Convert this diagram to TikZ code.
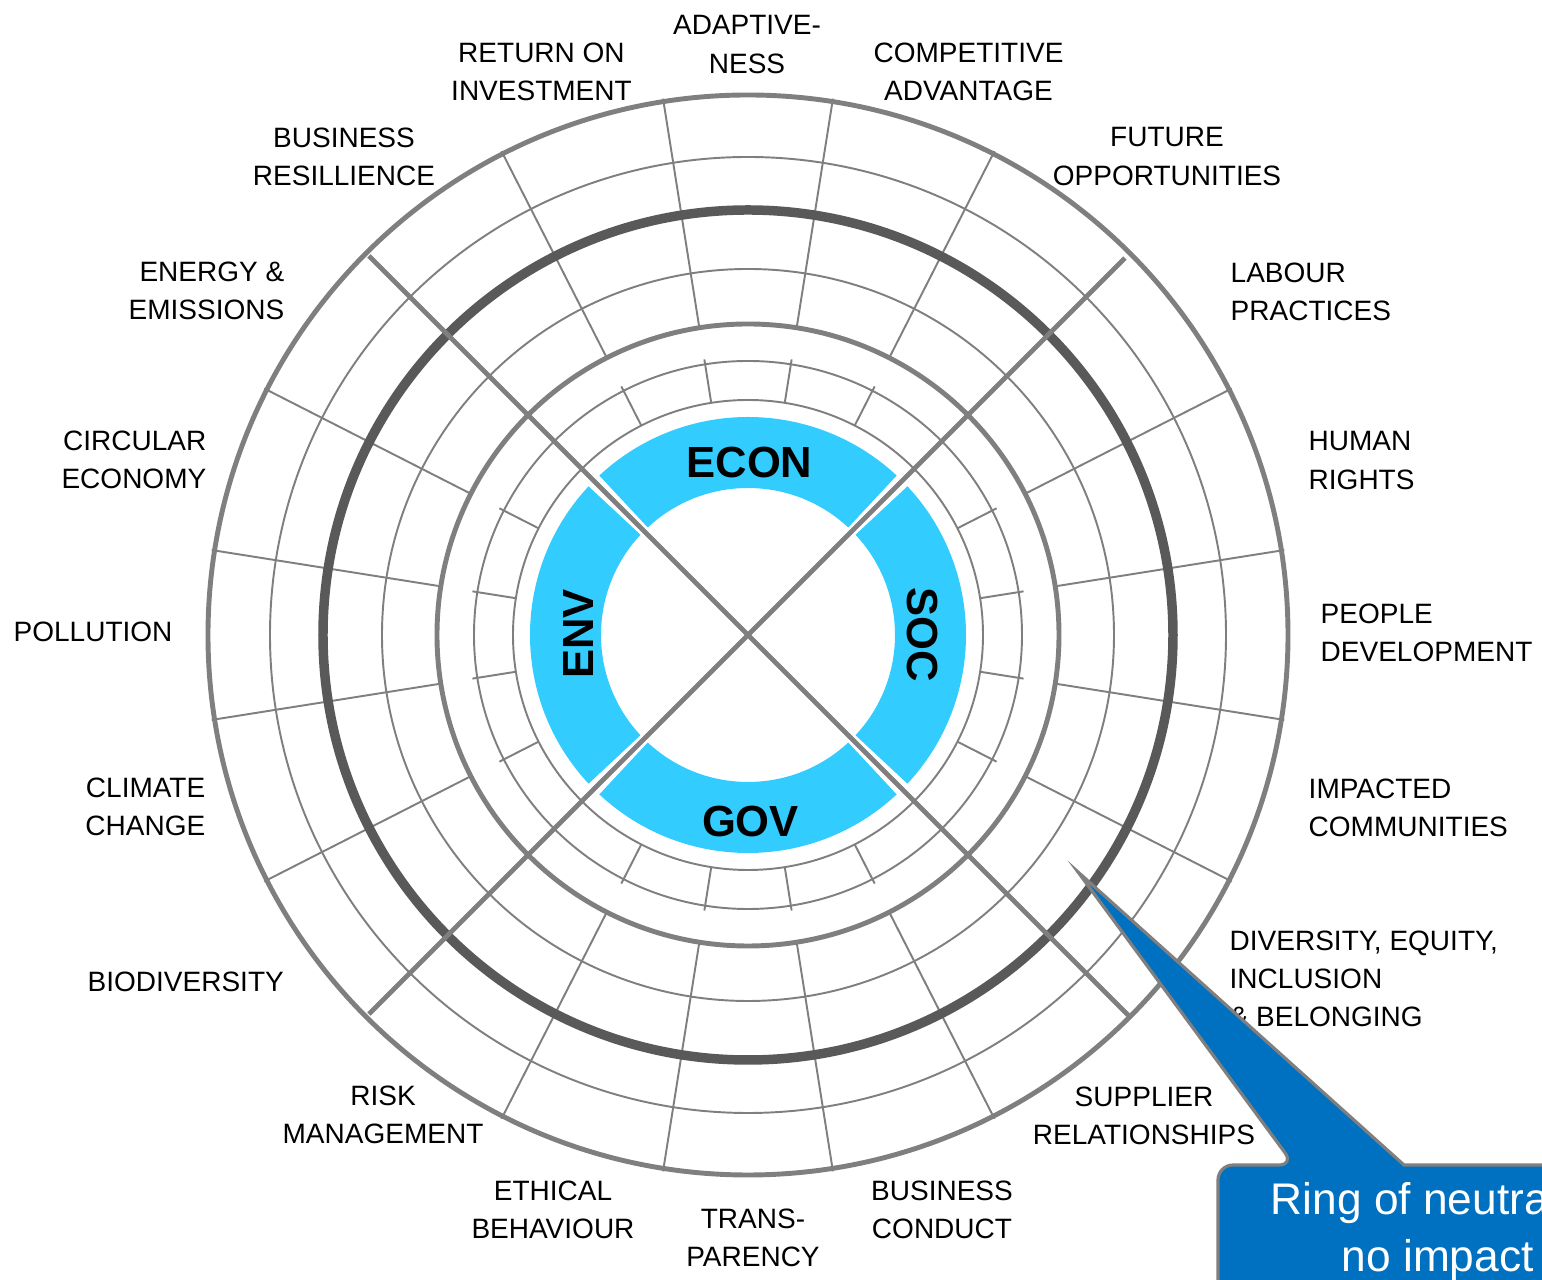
\documentclass[tikz,border=0pt]{standalone}
\usepackage{fontspec}
\setmainfont{Liberation Sans}
\definecolor{ringgray}{HTML}{7F7F7F}
\definecolor{ringdark}{HTML}{595959}
\definecolor{pillarblue}{HTML}{33CCFF}
\definecolor{calloutblue}{HTML}{0070C0}

\begin{document}
\begin{tikzpicture}[
  lbl/.style={inner sep=0pt, align=center, font=\fontsize{7.97}{10.9}\selectfont},
  pillar/.style={inner sep=0pt, font=\fontsize{12.4}{14}\selectfont\bfseries},
  thinring/.style={draw=ringgray, line width=0.55pt},
  midring/.style={draw=ringgray, line width=1.4pt},
  darkring/.style={draw=ringdark, line width=2.7pt},
  spoke/.style={draw=ringgray, line width=0.55pt},
  diag/.style={draw=ringgray, line width=1.4pt},
  callout/.style={fill=calloutblue, draw=ringgray, line width=0.9pt},
  callouttext/.style={inner sep=0pt, text=white, font=\fontsize{12.6}{16}\selectfont}
]
\useasboundingbox (-7.48,-6.45) rectangle (7.94,6.35);
\clip (-7.48,-6.45) rectangle (7.94,6.35);
\coordinate (O) at (0,0);

\foreach \a in {9,27,63,81,99,117,153,171,189,207,243,261,279,297,333,351} {
  \draw[spoke] (\a:3.11) -- (\a:5.43);
  \draw[spoke] (\a:2.35) -- (\a:2.79);
}
\foreach \r in {4.78,3.66,2.74,2.35} \draw[thinring] (O) circle (\r);
\draw[midring] (O) circle (5.40);
\draw[midring] (O) circle (3.11);
\draw[darkring] (O) circle (4.25);

\foreach \s/\e in {47/133,137/223,227/313,-43/43}
  \fill[pillarblue] (\s:2.18) arc[start angle=\s, end angle=\e, radius=2.18]
    -- (\e:1.47) arc[start angle=\e, end angle=\s, radius=1.47] -- cycle;

\node[pillar, anchor=base] (econ) at (0.015,1.57) {ECON};
\node[pillar, anchor=base] (gov) at (0.025,-2.02) {GOV};
\node[pillar, anchor=base, rotate=90] (env) at (-1.54,0.01) {ENV};
\node[pillar, anchor=base, rotate=-90] (soc) at (1.59,0) {SOC};

\coordinate (NE) at (45:5.33);
\coordinate (NW) at (135:5.36);
\coordinate (SW) at (225:5.36);
\coordinate (SE) at (315:5.38);
\draw[diag] (NE) -- (SW);
\draw[diag] (NW) -- (SE);

\node[lbl, anchor=north] (adapt) at (-0.01,6.20) {ADAPTIVE-\\NESS};
\node[lbl, anchor=north] (compadv) at (2.205,5.93) {COMPETITIVE\\ADVANTAGE};
\node[lbl, anchor=north] (future) at (4.19,5.08) {FUTURE\\OPPORTUNITIES};
\node[lbl, align=left, anchor=north west] (labour) at (4.82,3.73) {LABOUR\\PRACTICES};
\node[lbl, align=left, anchor=north west] (human) at (5.60,2.04) {HUMAN\\RIGHTS};
\node[lbl, align=left, anchor=north west] (people) at (5.72,0.32) {PEOPLE\\DEVELOPMENT};
\node[lbl, align=left, anchor=north west] (impact) at (5.60,-1.43) {IMPACTED\\COMMUNITIES};
\node[lbl, align=left, anchor=north west] (dei) at (4.81,-2.95) {DIVERSITY, EQUITY,\\INCLUSION\\\& BELONGING};
\node[lbl, anchor=north] (supplier) at (3.96,-4.51) {SUPPLIER\\RELATIONSHIPS};
\node[lbl, anchor=north] (conduct) at (1.94,-5.45) {BUSINESS\\CONDUCT};
\node[lbl, anchor=north] (transp) at (0.05,-5.73) {TRANS-\\PARENCY};
\node[lbl, anchor=north] (ethics) at (-1.95,-5.45) {ETHICAL\\BEHAVIOUR};
\node[lbl, anchor=north] (risk) at (-3.65,-4.50) {RISK\\MANAGEMENT};
\node[lbl, anchor=north west] (biodiv) at (-6.61,-3.36) {BIODIVERSITY};
\node[lbl, align=right, anchor=north east] (climate) at (-5.42,-1.42) {CLIMATE\\CHANGE};
\node[lbl, anchor=north west] (pollution) at (-7.35,0.14) {POLLUTION};
\node[lbl, align=right, anchor=north east] (circular) at (-5.41,2.05) {CIRCULAR\\ECONOMY};
\node[lbl, align=right, anchor=north east] (energy) at (-4.63,3.74) {ENERGY \&\\EMISSIONS};
\node[lbl, anchor=north] (resil) at (-4.04,5.08) {BUSINESS\\RESILLIENCE};
\node[lbl, anchor=north] (roi) at (-2.065,5.93) {RETURN ON\\INVESTMENT};

\coordinate (tip) at (3.30,-2.37);
\draw[callout] (5.46,-5.30) -- (tip) -- (6.56,-5.30) -- (8.5,-5.30) -- (8.5,-7)
  -- (4.70,-7) [rounded corners=0.15cm] -- (4.70,-5.30) -- cycle;
\node[callouttext, anchor=base west] (note1) at (5.22,-5.80) {Ring of neutral};
\node[callouttext, anchor=base west] (note2) at (5.93,-6.37) {no impact};
\end{tikzpicture}
\end{document}
